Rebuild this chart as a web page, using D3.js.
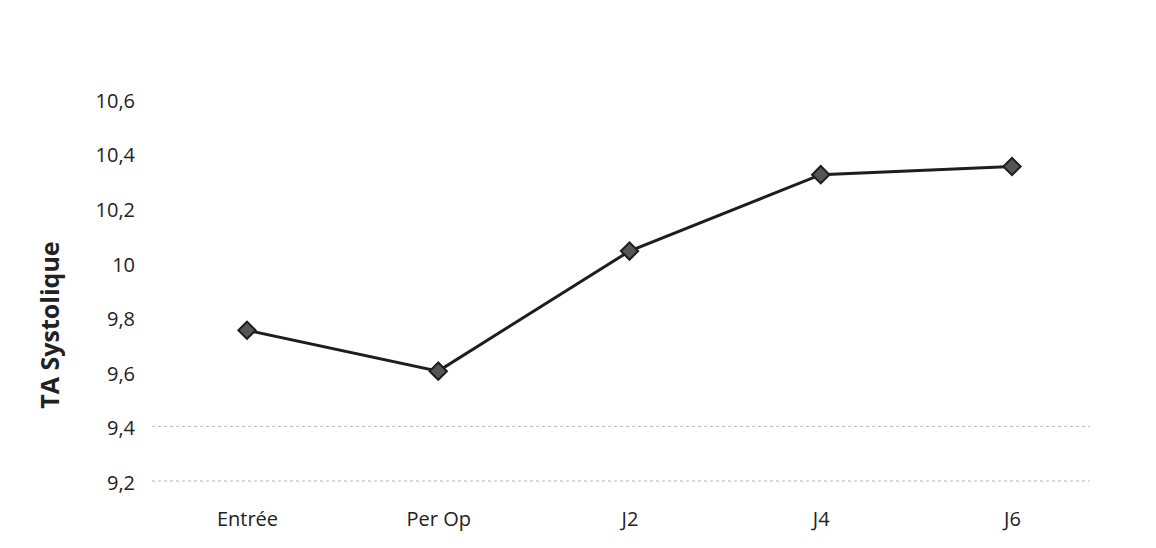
<!DOCTYPE html>
<html>
<head>
<meta charset="utf-8">
<script src="https://cdn.jsdelivr.net/npm/d3@7"></script>
<style>
  body { margin: 0; background: #fff; }
  text { font-family: "Open Sans", sans-serif; fill: #222; }
</style>
</head>
<body>
<script>
const categories = ['Entrée', 'Per Op', 'J2', 'J4', 'J6'];
const values = [9.76, 9.61, 10.05, 10.33, 10.36];
const yTicks = [9.2, 9.4, 9.6, 9.8, 10, 10.2, 10.4, 10.6];

const width = 1156, height = 548;

const svg = d3.select('body')
  .append('svg')
  .attr('width', width)
  .attr('height', height);

const xScale = d3.scalePoint()
  .domain(categories)
  .range([247, 1012]);

const yScale = d3.scaleLinear()
  .domain([9.2, 10.6])
  .range([483, 101]);

// faint scanned gridlines at the bottom
svg.selectAll('line.grid')
  .data([9.2, 9.4])
  .enter()
  .append('line')
  .attr('class', 'grid')
  .attr('x1', 152)
  .attr('x2', 1090)
  .attr('y1', (d) => yScale(d) - 2)
  .attr('y2', (d) => yScale(d) - 2)
  .attr('stroke', '#bbb')
  .attr('stroke-width', 1)
  .attr('stroke-dasharray', '3,3');

const yAxis = d3.axisLeft(yScale)
  .tickValues(yTicks)
  .tickSize(0)
  .tickPadding(0)
  .tickFormat((d) => String(d).replace('.', ','));

svg.append('g')
  .attr('transform', 'translate(135, 0)')
  .call(yAxis)
  .call((g) => g.select('.domain').remove())
  .selectAll('text')
  .style('font-size', '20px')
  .attr('fill', '#222');

const xAxis = d3.axisBottom(xScale)
  .tickSize(0)
  .tickPadding(0);

svg.append('g')
  .attr('transform', 'translate(0, 512)')
  .call(xAxis)
  .call((g) => g.select('.domain').remove())
  .selectAll('text')
  .style('font-size', '20px')
  .attr('fill', '#222');

const line = d3.line()
  .x((d, i) => xScale(categories[i]))
  .y((d) => yScale(d));

svg.append('path')
  .datum(values)
  .attr('d', line)
  .attr('fill', 'none')
  .attr('stroke', '#1e1e1e')
  .attr('stroke-width', 3);

svg.selectAll('path.marker')
  .data(values)
  .enter()
  .append('path')
  .attr('class', 'marker')
  .attr('d', d3.symbol(d3.symbolSquare, 150))
  .attr('transform', (d, i) => 'translate(' + xScale(categories[i]) + ',' + yScale(d) + ') rotate(45)')
  .attr('fill', '#555')
  .attr('stroke', '#1e1e1e')
  .attr('stroke-width', 2);

svg.append('text')
  .text('TA Systolique')
  .attr('transform', 'translate(59, 325) rotate(-90)')
  .attr('text-anchor', 'middle')
  .style('font-size', '25px')
  .style('font-weight', 'bold');
</script>
</body>
</html>
